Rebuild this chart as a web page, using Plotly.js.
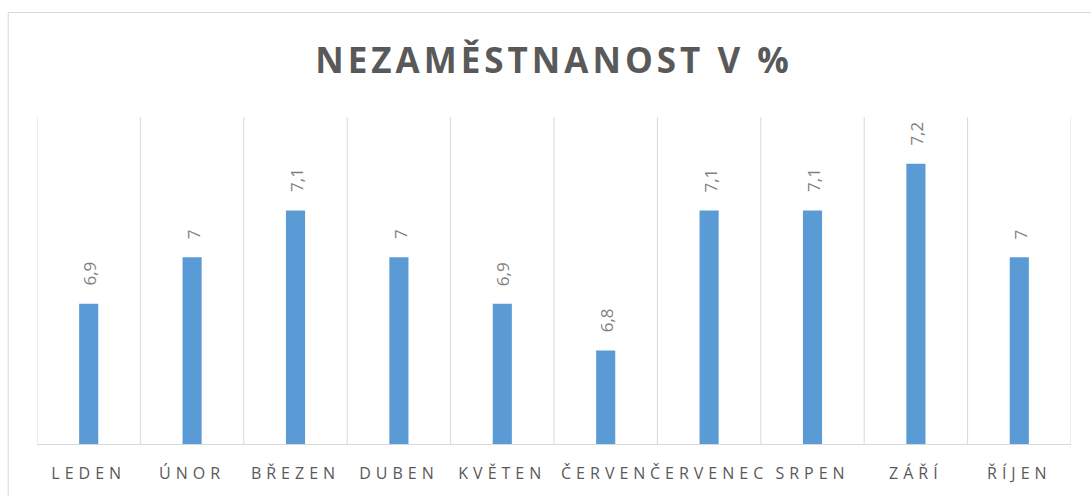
<!DOCTYPE html>
<html>
<head>
<meta charset="utf-8">
<script src="https://cdn.plot.ly/plotly-3.0.1.min.js"></script>
<style>
  body { margin: 0; background: #fff; }
  #chart { width: 1091px; height: 496px; }
  .xtick text { letter-spacing: 5px; }
  .gtitle { letter-spacing: 4px; }
</style>
</head>
<body>
<div id="chart"></div>
<script>
const months = ["LEDEN", "ÚNOR", "BŘEZEN", "DUBEN", "KVĚTEN", "ČERVEN", "ČERVENEC", "SRPEN", "ZÁŘÍ", "ŘÍJEN"];
const values = [6.9, 7.0, 7.1, 7.0, 6.9, 6.8, 7.1, 7.1, 7.2, 7.0];
const labels = values.map(v => String(v).replace('.', ','));

const idx = months.map((_, i) => i);

const trace = {
  type: 'bar',
  x: idx,
  y: values,
  width: 0.185,
  marker: { color: '#5B9BD5' },
  hoverinfo: 'skip'
};

const gridShapes = [];
for (let i = 0; i <= months.length; i++) {
  gridShapes.push({
    type: 'line', xref: 'x', yref: 'paper',
    x0: i - 0.5, x1: i - 0.5, y0: 0, y1: 1,
    line: { color: '#d9d9d9', width: 1 }
  });
}
// outer chart border
gridShapes.push({
  type: 'rect', xref: 'paper', yref: 'paper',
  x0: -0.0278, x1: 1.2, y0: -0.5, y1: 1.3196,
  line: { color: '#d9d9d9', width: 1 }, fillcolor: 'rgba(0,0,0,0)'
});

const annotations = idx.map(i => ({
  x: i, y: values[i], xref: 'x', yref: 'y',
  text: labels[i], showarrow: false, textangle: -90,
  xanchor: 'center', yanchor: 'bottom', yshift: 16, xshift: 1,
  font: { family: 'Open Sans, sans-serif', size: 17, color: '#808080' }
}));

const layout = {
  width: 1091, height: 496,
  margin: { l: 37, r: 20, t: 117, b: 52 },
  paper_bgcolor: '#ffffff', plot_bgcolor: '#ffffff',
  showlegend: false,
  title: {
    text: '<b>NEZAMĚSTNANOST V %</b>',
    font: { family: 'Open Sans, sans-serif', size: 35, color: '#595959' },
    xref: 'paper', x: 0.5, xanchor: 'center', y: 0.878, yanchor: 'middle'
  },
  xaxis: {
    range: [-0.5, 9.5],
    tickvals: idx, ticktext: months,
    showgrid: false, zeroline: false,
    showline: true, linecolor: '#d9d9d9', linewidth: 1,
    ticks: '',
    tickfont: { family: 'Open Sans, sans-serif', size: 16, color: '#595959' },
    ticklabelstandoff: 15
  },
  yaxis: {
    range: [6.6, 7.3],
    showgrid: false, zeroline: false, showline: false,
    showticklabels: false, ticks: ''
  },
  shapes: gridShapes,
  annotations: annotations
};

Plotly.newPlot('chart', [trace], layout, { displayModeBar: false, staticPlot: true });
</script>
</body>
</html>
